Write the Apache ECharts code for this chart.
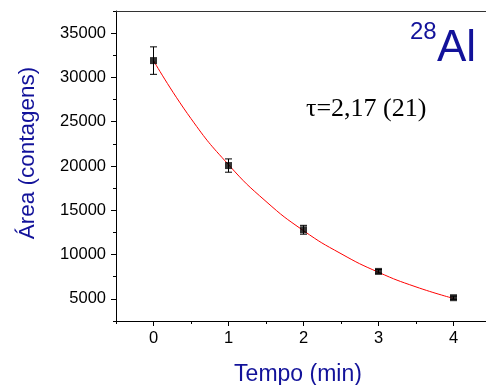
<!DOCTYPE html>
<html>
<head>
<meta charset="utf-8">
<script src="https://cdn.jsdelivr.net/npm/echarts@6/dist/echarts.min.js"></script>
<style>
html, body { margin: 0; padding: 0; background: #fff; }
#main { width: 486px; height: 385px; }
</style>
</head>
<body>
<div id="main"></div>
<script>
// measured points (Tempo in min, area in counts) and their error bars
const tempo = [0, 1, 2, 3, 4];
const area = [31900, 20050, 12800, 8100, 5130];
const erro = [1550, 750, 500, 200, 180];
// exponential fit curve
const fitTempo = [0, 0.5, 1, 1.5, 2, 2.5, 3, 3.5, 4];
const fitArea = [31900, 25350, 20150, 16000, 12700, 10100, 8000, 6350, 5050];
// tick labels
const xTicks = [0, 1, 2, 3, 4];
const yTicks = [5000, 10000, 15000, 20000, 25000, 30000, 35000];

const blue = '#12129a';
const myChart = echarts.init(document.getElementById('main'));

const option = {
    animation: false,
    grid: {
        left: 116,
        top: 11,
        width: 375,
        height: 310,
        outerBoundsMode: 'none',
        containLabel: false
    },
    xAxis: [
        {
            type: 'value',
            min: -0.5,
            max: 4.5,
            name: 'Tempo (min)',
            nameLocation: 'middle',
            nameGap: 42,
            nameTextStyle: { color: blue, fontSize: 23, fontFamily: 'Liberation Sans', padding: [0, 11, 0, 0] },
            axisLine: { show: true, onZero: false, lineStyle: { color: '#000', width: 1 } },
            axisTick: { customValues: xTicks, length: 5, lineStyle: { color: '#000' } },
            axisLabel: { customValues: xTicks, color: '#000', fontSize: 16.5, fontFamily: 'Liberation Sans', margin: 9 },
            splitLine: { show: false }
        },
        {
            // minor ticks
            type: 'value',
            min: -0.5,
            max: 4.5,
            interval: 0.5,
            position: 'bottom',
            axisLine: { show: false, onZero: false },
            axisTick: { length: 3, lineStyle: { color: '#000' } },
            axisLabel: { show: false },
            splitLine: { show: false }
        },
        {
            // top frame line
            type: 'value',
            min: -0.5,
            max: 4.5,
            position: 'top',
            axisLine: { show: true, onZero: false, lineStyle: { color: '#333', width: 1 } },
            axisTick: { show: false },
            axisLabel: { show: false },
            splitLine: { show: false }
        }
    ],
    yAxis: [
        {
            type: 'value',
            min: 2500,
            max: 37500,
            name: 'Área (contagens)',
            nameLocation: 'middle',
            nameGap: 77,
            nameRotate: 90,
            nameTextStyle: { color: blue, fontSize: 22.5, fontFamily: 'Liberation Sans', padding: [0, 0, 0, 26] },
            axisLine: { show: true, onZero: false, lineStyle: { color: '#000', width: 1 } },
            axisTick: { customValues: yTicks, length: 5, lineStyle: { color: '#000' } },
            axisLabel: {
                customValues: yTicks,
                formatter: v => String(v),
                color: '#000', fontSize: 16.5, fontFamily: 'Liberation Sans', margin: 10
            },
            splitLine: { show: false }
        },
        {
            // minor ticks
            type: 'value',
            min: 2500,
            max: 37500,
            interval: 2500,
            position: 'left',
            axisLine: { show: false, onZero: false },
            axisTick: { length: 3, lineStyle: { color: '#000' } },
            axisLabel: { show: false },
            splitLine: { show: false }
        }
    ],
    graphic: [
        {
            type: 'text', x: 410, y: 32, z: 10,
            style: { text: '28', fill: blue, font: '24px "Liberation Sans"', verticalAlign: 'middle' }
        },
        {
            type: 'text', x: 437, y: 49, z: 10,
            style: { text: 'Al', fill: blue, font: '44px "Liberation Sans"', verticalAlign: 'middle' }
        },
        {
            type: 'text', x: 306, y: 109, z: 10,
            style: { text: 'τ=2,17 (21)', fill: '#000', font: '26px "Liberation Serif"', verticalAlign: 'middle' }
        }
    ],
    series: [
        {
            name: 'ajuste',
            type: 'line',
            smooth: true,
            showSymbol: false,
            z: 2,
            lineStyle: { color: '#ff0000', width: 1 },
            data: fitTempo.map((t, i) => [t, fitArea[i]])
        },
        {
            name: 'erro',
            type: 'custom',
            z: 3,
            data: tempo.map((t, i) => [t, area[i] - erro[i], area[i] + erro[i]]),
            renderItem: function (params, api) {
                const lo = api.coord([api.value(0), api.value(1)]);
                const hi = api.coord([api.value(0), api.value(2)]);
                const w = 3.5;
                const st = { stroke: '#000', lineWidth: 1 };
                return {
                    type: 'group',
                    children: [
                        { type: 'line', shape: { x1: lo[0], y1: lo[1], x2: hi[0], y2: hi[1] }, style: st },
                        { type: 'line', shape: { x1: lo[0] - w, y1: lo[1], x2: lo[0] + w, y2: lo[1] }, style: st },
                        { type: 'line', shape: { x1: hi[0] - w, y1: hi[1], x2: hi[0] + w, y2: hi[1] }, style: st }
                    ]
                };
            }
        },
        {
            name: 'Área',
            type: 'scatter',
            symbol: 'rect',
            symbolSize: 7,
            z: 4,
            itemStyle: { color: '#000' },
            data: tempo.map((t, i) => [t, area[i]])
        }
    ]
};

myChart.setOption(option);
</script>
</body>
</html>
